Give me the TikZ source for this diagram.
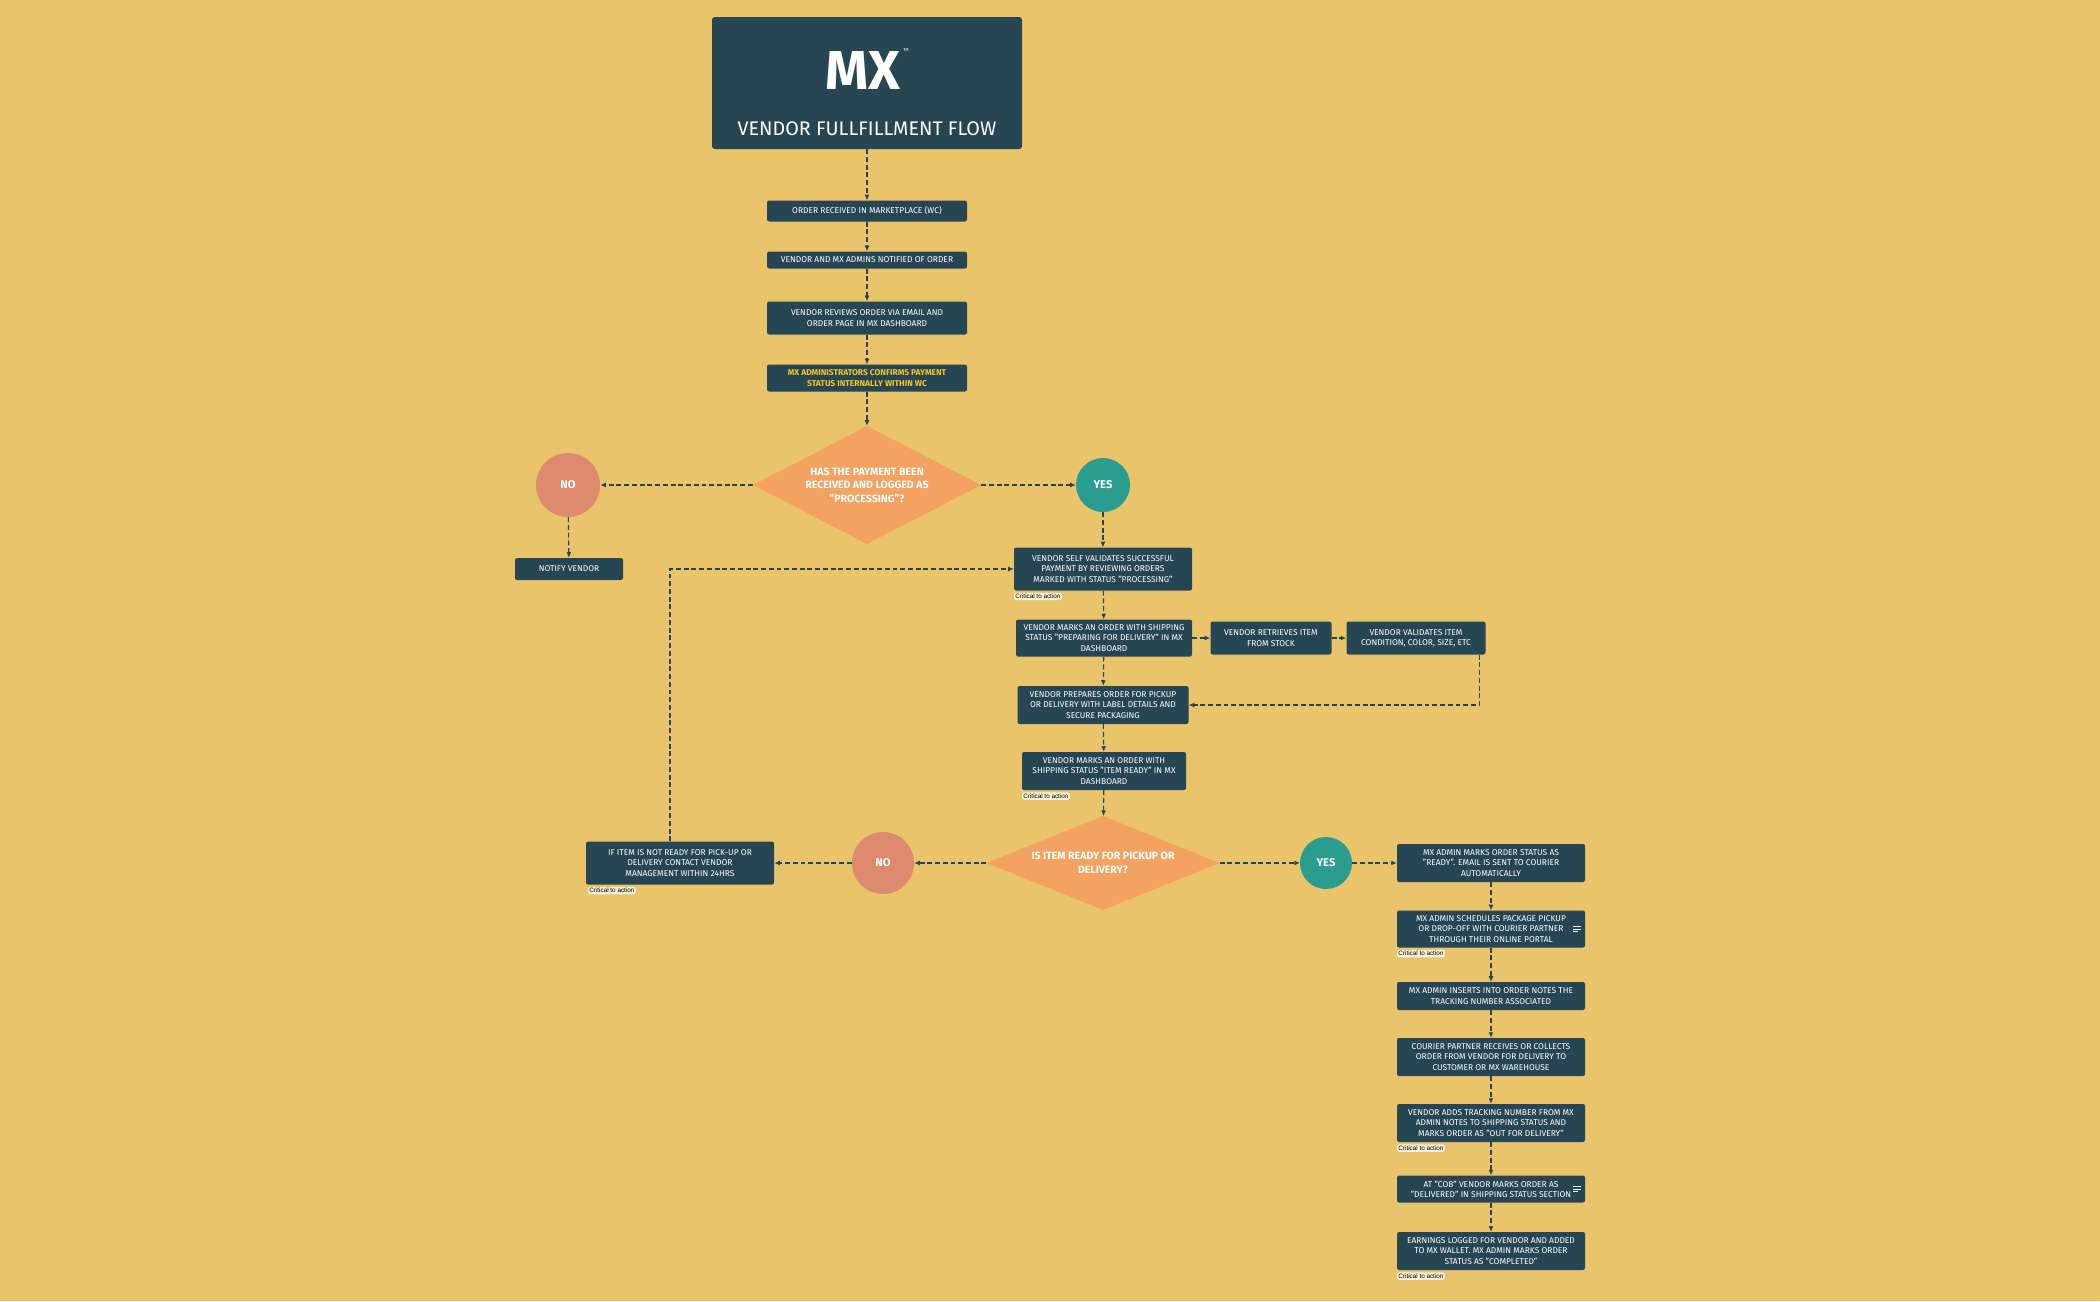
\documentclass[tikz,border=0pt]{standalone}
\usepackage{fontspec}
\setmainfont{Fira Sans}
\newfontfamily\tagfont{Liberation Sans}
\usetikzlibrary{shapes.geometric,arrows.meta}
\definecolor{bgyellow}{HTML}{E9C46A}
\definecolor{darkteal}{HTML}{264653}
\definecolor{teal}{HTML}{2A9D8F}
\definecolor{sand}{HTML}{F4A261}
\definecolor{coral}{HTML}{DE8A6F}
\definecolor{goldtext}{HTML}{F7C520}
\definecolor{tagfill}{HTML}{FBF1D9}
\tikzset{
  box/.style={fill=darkteal, text=white, rounded corners=3pt, align=center,
    font=\fontsize{12}{14.5}\selectfont, inner sep=1pt},
  decision/.style={diamond, fill=sand, text=white, align=center, inner sep=0pt,
    font=\fontsize{15}{19}\selectfont\bfseries},
  yesnode/.style={ellipse, fill=teal, text=white, font=\fontsize{16}{18}\selectfont\bfseries, inner sep=0pt},
  nonode/.style={ellipse, fill=coral, text=white, font=\fontsize{16}{18}\selectfont\bfseries, inner sep=0pt},
  tag/.style={fill=tagfill, rounded corners=3pt, font=\tagfont\fontsize{9}{10}\selectfont,
    inner sep=2pt, anchor=north west},
  flow/.style={draw=darkteal, line width=1.6pt, dash pattern=on 7pt off 4pt,
    -{Latex[length=8pt,width=7pt]}},
}
\begin{document}
\begin{tikzpicture}[x=0.5mm,y=-0.5mm]
  \fill[bgyellow] (0,0) rectangle (2100,1301);
  \useasboundingbox (0,0) rectangle (2100,1301);

  % header
  \node[box, minimum width=15.5cm, minimum height=6.6cm, rounded corners=4pt] (title) at (867,83) {};
  \node[text=white, font=\fontsize{78}{78}\selectfont\bfseries] (logo) at (863,70) {MX};
  \node[text=white, font=\fontsize{6}{6}\selectfont] (tm) at (906,50) {TM};
  \node[text=white, font=\fontsize{28}{28}\selectfont] (titletext) at (867,129) {VENDOR FULLFILLMENT FLOW};

  % order intake
  \node[box, minimum width=10cm, minimum height=1.05cm] (o1) at (867,211) {ORDER RECEIVED IN MARKETPLACE (WC)};
  \node[box, minimum width=10cm, minimum height=0.85cm] (o2) at (867,260) {VENDOR AND MX ADMINS NOTIFIED OF ORDER};
  \node[box, minimum width=10cm, minimum height=1.65cm] (o3) at (867,318) {VENDOR REVIEWS ORDER VIA EMAIL AND\\ORDER PAGE IN MX DASHBOARD};
  \node[box, minimum width=10cm, minimum height=1.35cm, text=goldtext, font=\fontsize{12}{14.5}\selectfont\bfseries] (o4) at (867,378) {MX ADMINISTRATORS CONFIRMS PAYMENT\\STATUS INTERNALLY WITHIN WC};

  % payment decision
  \node[decision, aspect=2, minimum width=11.4cm, minimum height=5.9cm] (dec1) at (867,485) {HAS THE PAYMENT BEEN\\RECEIVED AND LOGGED AS\\"PROCESSING"?};
  \node[nonode, minimum width=3.2cm, minimum height=3.2cm] (no1) at (568,485) {NO};
  \node[yesnode, minimum width=2.7cm, minimum height=2.7cm] (yes1) at (1103,485) {YES};
  \node[box, minimum width=5.4cm, minimum height=1.1cm] (notify) at (569,569) {NOTIFY VENDOR};

  % vendor preparation
  \node[box, minimum width=8.9cm, minimum height=2.15cm] (v1) at (1103,569) {VENDOR SELF VALIDATES SUCCESSFUL\\PAYMENT BY REVIEWING ORDERS\\MARKED WITH STATUS "PROCESSING"};
  \node[box, minimum width=8.8cm, minimum height=1.85cm] (v2) at (1104,638) {VENDOR MARKS AN ORDER WITH SHIPPING\\STATUS "PREPARING FOR DELIVERY" IN MX\\DASHBOARD};
  \node[box, minimum width=6.05cm, minimum height=1.65cm] (v3) at (1271,638) {VENDOR RETRIEVES ITEM\\FROM STOCK};
  \node[box, minimum width=6.95cm, minimum height=1.65cm] (v4) at (1416,638) {VENDOR VALIDATES ITEM\\CONDITION, COLOR, SIZE, ETC};
  \node[box, minimum width=8.55cm, minimum height=1.9cm] (v5) at (1103,705) {VENDOR PREPARES ORDER FOR PICKUP\\OR DELIVERY WITH LABEL DETAILS AND\\SECURE PACKAGING};
  \node[box, minimum width=8.2cm, minimum height=1.9cm] (v6) at (1104,771) {VENDOR MARKS AN ORDER WITH\\SHIPPING STATUS "ITEM READY" IN MX\\DASHBOARD};

  % pickup decision
  \node[decision, aspect=2.5, minimum width=11.65cm, minimum height=4.7cm] (dec2) at (1103,863) {IS ITEM READY FOR PICKUP OR\\DELIVERY?};
  \node[nonode, minimum width=3.1cm, minimum height=3.1cm] (no2) at (883,863) {NO};
  \node[yesnode, minimum width=2.6cm, minimum height=2.6cm] (yes2) at (1326,863) {YES};
  \node[box, minimum width=9.4cm, minimum height=2.15cm] (notready) at (680,863) {IF ITEM IS NOT READY FOR PICK-UP OR\\DELIVERY CONTACT VENDOR\\MANAGEMENT WITHIN 24HRS};

  % admin and courier
  \node[box, minimum width=9.4cm, minimum height=1.9cm] (a1) at (1491,863) {MX ADMIN MARKS ORDER STATUS AS\\"READY". EMAIL IS SENT TO COURIER\\AUTOMATICALLY};
  \node[box, minimum width=9.4cm, minimum height=1.85cm] (a2) at (1491,929) {MX ADMIN SCHEDULES PACKAGE PICKUP\\OR DROP-OFF WITH COURIER PARTNER\\THROUGH THEIR ONLINE PORTAL};
  \node[box, minimum width=9.4cm, minimum height=1.4cm] (a3) at (1491,996) {MX ADMIN INSERTS INTO ORDER NOTES THE\\TRACKING NUMBER ASSOCIATED};
  \node[box, minimum width=9.4cm, minimum height=1.9cm] (a4) at (1491,1057) {COURIER PARTNER RECEIVES OR COLLECTS\\ORDER FROM VENDOR FOR DELIVERY TO\\CUSTOMER OR MX WAREHOUSE};
  \node[box, minimum width=9.4cm, minimum height=1.9cm] (a5) at (1491,1123) {VENDOR ADDS TRACKING NUMBER FROM MX\\ADMIN NOTES TO SHIPPING STATUS AND\\MARKS ORDER AS "OUT FOR DELIVERY"};
  \node[box, minimum width=9.4cm, minimum height=1.35cm] (a6) at (1491,1189) {AT "COB" VENDOR MARKS ORDER AS\\"DELIVERED" IN SHIPPING STATUS SECTION};
  \node[box, minimum width=9.4cm, minimum height=1.9cm] (a7) at (1491,1251) {EARNINGS LOGGED FOR VENDOR AND ADDED\\TO MX WALLET. MX ADMIN MARKS ORDER\\STATUS AS "COMPLETED"};

  % note icons
  \foreach \yy in {929,1189} {
    \draw[white, line width=1pt] (1573,\yy-2.5) -- ++(8,0) (1573,\yy) -- ++(8,0) (1573,\yy+2.5) -- ++(5,0);
  }

  % critical tags
  \node[tag] (t1) at ([yshift=-1mm]v1.south west) {Critical to action};
  \node[tag] (t2) at ([yshift=-1mm]v6.south west) {Critical to action};
  \node[tag] (t3) at ([xshift=1mm,yshift=-1mm]notready.south west) {Critical to action};
  \node[tag] (t4) at ([yshift=-1mm]a2.south west) {Critical to action};
  \node[tag] (t5) at ([yshift=-1mm]a5.south west) {Critical to action};
  \node[tag] (t6) at ([yshift=-1mm]a7.south west) {Critical to action};

  % connectors
  \draw[flow] (title) -- (o1);
  \draw[flow] (o1) -- (o2);
  \draw[flow] (o2) -- (o3);
  \draw[flow] (o3) -- (o4);
  \draw[flow] (o4) -- (dec1);
  \draw[flow] (dec1) -- (no1);
  \draw[flow] (dec1) -- (yes1);
  \draw[flow] (no1) -- (notify);
  \draw[flow] (yes1) -- (v1);
  \draw[flow] (v1) -- (v2);
  \draw[flow] (v2) -- (v3);
  \draw[flow] (v3) -- (v4);
  \draw[flow] ([xshift=-3mm]v4.south east) |- (v5.east);
  \draw[flow] (v2) -- (v5);
  \draw[flow] (v5) -- (v6);
  \draw[flow] (v6) -- (dec2);
  \draw[flow] (dec2) -- (no2);
  \draw[flow] (no2) -- (notready);
  \draw[flow] ([xshift=-5mm]notready.north) |- (v1.west);
  \draw[flow] (dec2) -- (yes2);
  \draw[flow] (yes2) -- (a1);
  \draw[flow] (a1) -- (a2);
  \draw[flow] (a2) -- (a3);
  \draw[flow] (a3) -- (a4);
  \draw[flow] (a4) -- (a5);
  \draw[flow] (a5) -- (a6);
  \draw[flow] (a6) -- (a7);
\end{tikzpicture}
\end{document}
